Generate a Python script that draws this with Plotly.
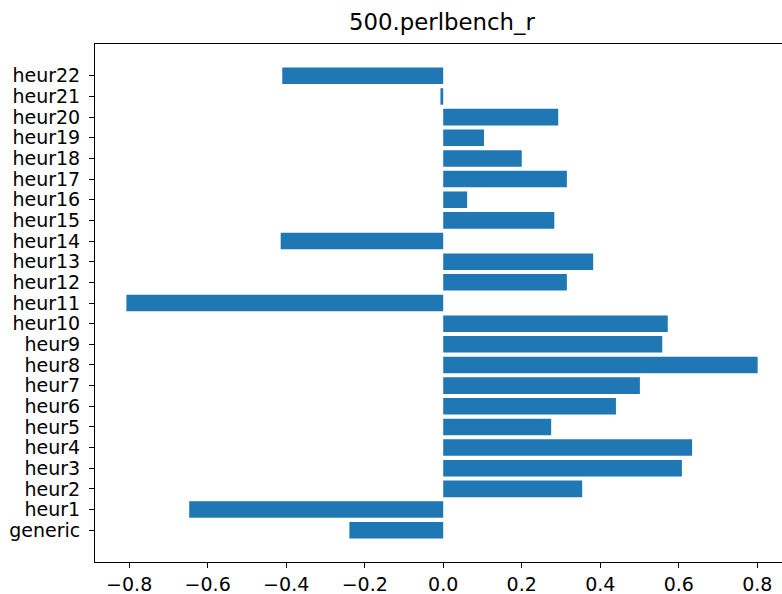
import plotly.graph_objects as go

title = "500.perlbench_r"
categories = ["generic"] + [f"heur{i}" for i in range(1, 23)]
values = [
    -0.239,  # generic
    -0.647,  # heur1
    0.354,   # heur2
    0.608,   # heur3
    0.634,   # heur4
    0.275,   # heur5
    0.440,   # heur6
    0.501,   # heur7
    0.801,   # heur8
    0.558,   # heur9
    0.572,   # heur10
    -0.807,  # heur11
    0.315,   # heur12
    0.382,   # heur13
    -0.414,  # heur14
    0.283,   # heur15
    0.061,   # heur16
    0.315,   # heur17
    0.200,   # heur18
    0.104,   # heur19
    0.293,   # heur20
    -0.007,  # heur21
    -0.410,  # heur22
]
x_tick_vals = [-0.8, -0.6, -0.4, -0.2, 0.0, 0.2, 0.4, 0.6, 0.8]
x_tick_text = ["\u22120.8", "\u22120.6", "\u22120.4", "\u22120.2", "0.0", "0.2", "0.4", "0.6", "0.8"]

ypos = list(range(len(categories)))

fig = go.Figure(
    go.Bar(
        x=values,
        y=ypos,
        orientation="h",
        width=0.8,
        marker=dict(color="#1f77b4", line=dict(width=0)),
    )
)

font_family = "DejaVu Sans"
tick_size = 19
fig.update_layout(
    width=782,
    height=594,
    margin=dict(l=95, r=0, t=44, b=32),
    paper_bgcolor="white",
    plot_bgcolor="white",
    showlegend=False,
    font=dict(family=font_family, size=tick_size, color="black"),
    title=dict(
        text=title,
        x=0.505,
        xref="paper",
        xanchor="center",
        y=1 - 22 / 594,
        yref="container",
        yanchor="middle",
        font=dict(family=font_family, size=22.8, color="black"),
    ),
)
fig.update_xaxes(
    range=[-0.887, 0.863],
    automargin=False,
    tickvals=x_tick_vals,
    ticktext=x_tick_text,
    showgrid=False,
    zeroline=False,
    showline=True,
    mirror=True,
    linecolor="black",
    linewidth=1,
    ticks="outside",
    ticklen=5,
    tickwidth=1,
    tickcolor="black",
    ticklabelstandoff=0,
    tickfont=dict(family=font_family, size=tick_size, color="black"),
)
fig.update_yaxes(
    range=[-1.54, 23.54],
    automargin=False,
    tickvals=ypos,
    ticktext=categories,
    showgrid=False,
    zeroline=False,
    showline=True,
    mirror=False,
    linecolor="black",
    linewidth=1,
    ticks="outside",
    ticklen=5,
    tickwidth=1,
    tickcolor="black",
    ticklabelstandoff=5,
    tickfont=dict(family=font_family, size=tick_size, color="black"),
)

fig.write_html("out.html")
